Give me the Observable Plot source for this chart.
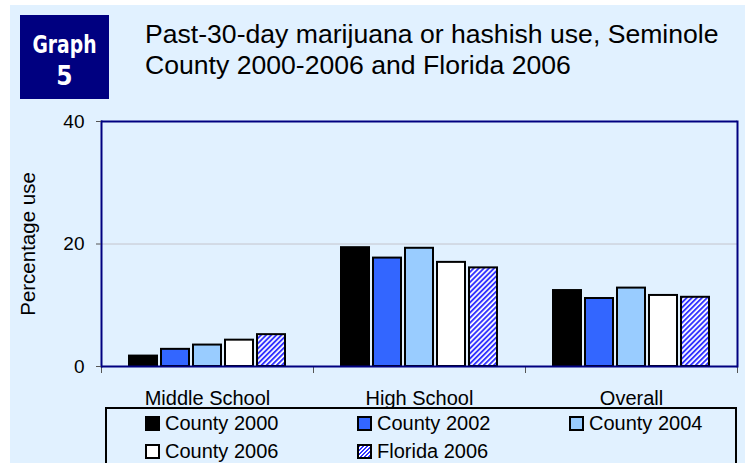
<!DOCTYPE html>
<html>
<head>
<meta charset="utf-8">
<script src="https://cdn.jsdelivr.net/npm/d3@7"></script>
<script src="https://cdn.jsdelivr.net/npm/@observablehq/plot@0.6"></script>
<style>
  body { margin: 0; background: #ffffff; font-family: "Liberation Sans", Arial, sans-serif; }
  #page { position: relative; width: 745px; height: 463px; overflow: hidden; }
  #bg { position: absolute; left: 10px; top: 5px; right: 0; bottom: 0; background: #e1f1ff; }
  #badge { position: absolute; left: 20px; top: 15px; width: 89px; height: 84px; background: #000080; }
  #title { position: absolute; left: 145px; top: 19px; font-size: 26.6px; line-height: 31px; color: #000; }
  #chart { position: absolute; left: 0; top: 100px; }
  #legend { position: absolute; left: 105px; top: 407px; width: 632px; height: 80px; box-sizing: border-box;
            border: 2px solid #000; padding-left: 38px; display: grid; grid-template-columns: 212px 212px 212px;
            grid-auto-rows: 28px; }
  .item { display: flex; align-items: center; font-size: 20px; line-height: 20px; color: #000; }
  .sw { width: 15px; height: 15px; box-sizing: border-box; border: 2px solid #000; margin-right: 5px; flex: none; }
</style>
</head>
<body>
<div id="page">
  <div id="bg"></div>
  <div id="badge">
    <svg width="89" height="84">
      <text x="44.5" y="38" text-anchor="middle" fill="#fff" font-family="'Liberation Sans Narrow','DejaVu Sans Condensed',sans-serif" font-weight="bold" font-size="24" textLength="64" lengthAdjust="spacingAndGlyphs">Graph</text>
      <text x="44.5" y="70" text-anchor="middle" fill="#fff" font-family="'Liberation Sans Narrow','DejaVu Sans Condensed',sans-serif" font-weight="bold" font-size="26">5</text>
    </svg>
  </div>
  <div id="title">Past-30-day marijuana or hashish use, Seminole<br>County 2000-2006 and Florida 2006</div>
  <div id="chart"></div>
  <div id="legend"></div>
</div>
<script>
const categories = ["Middle School", "High School", "Overall"];
const series = ["County 2000", "County 2002", "County 2004", "County 2006", "Florida 2006"];
const middleSchool = [1.7, 2.8, 3.5, 4.3, 5.2];
const highSchool = [19.4, 17.7, 19.3, 17.0, 16.1];
const overall = [12.4, 11.1, 12.8, 11.6, 11.3];
const seriesColors = ["#000000", "#3366ff", "#99ccff", "#ffffff", "url(#hatch)"];
const yTicks = [0, 20, 40];
const yLabel = ["Percentage use"];

const valuesByCategory = [middleSchool, highSchool, overall];
const rows = [];
categories.forEach((c, ci) => series.forEach((s, si) => rows.push({category: c, series: s, value: valuesByCategory[ci][si]})));

const W = 745, H = 363, mt = 21, mb = 97, ml = 100, mr = 8;
const plotH = H - mt - mb;
const navy = "#000080";

const chart = Plot.plot({
  width: W, height: H,
  marginTop: mt, marginBottom: mb, marginLeft: ml, marginRight: mr,
  style: {background: "transparent", fontFamily: "'Liberation Sans', Arial, sans-serif", fontSize: "20px", color: "#000"},
  fx: {domain: categories, padding: 0},
  x: {domain: series, paddingInner: 0.12, paddingOuter: 0.8, axis: null},
  y: {domain: [0, 40]},
  color: {domain: series, range: seriesColors},
  marks: [
    Plot.ruleY([20], {stroke: "#c4c4cc", strokeWidth: 1}),
    Plot.frame({anchor: "left", stroke: "#555", insetTop: plotH, insetBottom: -6}),
    Plot.frame({anchor: "right", facetAnchor: "right", stroke: "#555", insetTop: plotH, insetBottom: -6}),
    Plot.barY(rows, {fx: "category", x: "series", y: "value", fill: "series", stroke: "#000", strokeWidth: 2}),
    Plot.ruleY([0], {stroke: navy, strokeWidth: 2}),
    Plot.ruleY([40], {stroke: navy, strokeWidth: 2}),
    Plot.frame({anchor: "left", facetAnchor: "left", stroke: navy, strokeWidth: 2}),
    Plot.frame({anchor: "right", facetAnchor: "right", stroke: navy, strokeWidth: 2}),
    Plot.axisY({ticks: yTicks, tickSize: 5, tickPadding: 12, fontSize: 19, stroke: "#555", label: null}),
    Plot.text(yLabel, {text: d => d, frameAnchor: "left", rotate: -90, dx: -73, textAnchor: "middle",
                       lineAnchor: "middle", fontSize: 20.5, fill: "#000", facetAnchor: "left"}),
    Plot.axisFx({anchor: "bottom", tickSize: 0, tickPadding: 24, fontSize: 20, label: null})
  ]
});

// hatch pattern for Florida 2006
const defs = d3.select(chart).insert("defs", ":first-child");
const pat = defs.append("pattern").attr("id", "hatch").attr("patternUnits", "userSpaceOnUse")
  .attr("width", 3.6).attr("height", 3.6).attr("patternTransform", "rotate(45)");
pat.append("rect").attr("width", 3.6).attr("height", 3.6).attr("fill", "#ffffff");
pat.append("rect").attr("width", 1.9).attr("height", 3.6).attr("fill", "#3333ff");

document.getElementById("chart").appendChild(chart);

// legend
const legend = document.getElementById("legend");
series.forEach((s, i) => {
  const item = document.createElement("div");
  item.className = "item";
  const sw = document.createElement("span");
  sw.className = "sw";
  const col = seriesColors[i];
  sw.style.background = col.startsWith("url")
    ? "repeating-linear-gradient(135deg, #3333ff 0 1.4px, #ffffff 1.4px 2.8px)"
    : col;
  item.appendChild(sw);
  item.appendChild(document.createTextNode(s));
  legend.appendChild(item);
});
</script>
</body>
</html>
